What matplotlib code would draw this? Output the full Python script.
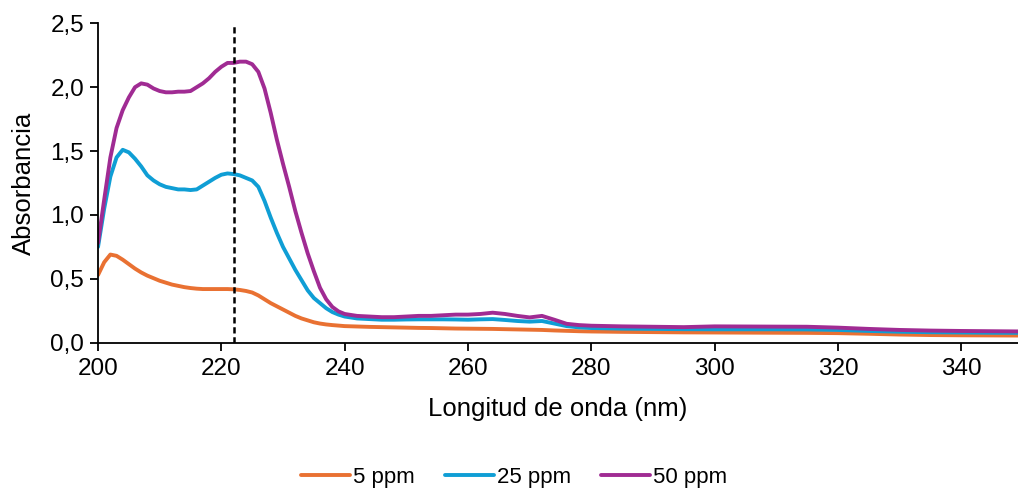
import matplotlib
matplotlib.use("Agg")
import matplotlib.pyplot as plt
from matplotlib.ticker import FuncFormatter, MultipleLocator

plt.rcParams['font.family'] = ['Liberation Sans', 'DejaVu Sans']

wavelength = [200, 201, 202, 203, 204, 205, 206, 207, 208, 209, 210, 211, 212, 213, 214,
              215, 216, 217, 218, 219, 220, 221, 222, 223, 224, 225, 226, 227, 228, 229,
              230, 231, 232, 233, 234, 235, 236, 237, 238, 239, 240, 242, 244, 246, 248,
              250, 252, 254, 256, 258, 260, 262, 264, 266, 268, 270, 272, 274, 276, 278,
              280, 285, 290, 295, 300, 305, 310, 315, 320, 325, 330, 335, 340, 345, 350]

ppm5 = [0.53, 0.63, 0.69, 0.68, 0.65, 0.615, 0.58, 0.55, 0.525, 0.505, 0.485, 0.47, 0.455, 0.445, 0.435,
        0.428, 0.423, 0.42, 0.42, 0.42, 0.42, 0.42, 0.418, 0.413, 0.405, 0.393, 0.37, 0.34, 0.31, 0.285,
        0.26, 0.235, 0.21, 0.19, 0.175, 0.16, 0.15, 0.143, 0.138, 0.134, 0.13, 0.127, 0.124, 0.122, 0.12,
        0.118, 0.116, 0.115, 0.113, 0.111, 0.11, 0.109, 0.108, 0.106, 0.104, 0.102, 0.1, 0.096, 0.093, 0.09,
        0.088, 0.085, 0.083, 0.081, 0.08, 0.079, 0.078, 0.077, 0.075, 0.07, 0.064, 0.06, 0.058, 0.057, 0.056]

ppm25 = [0.75, 1.05, 1.30, 1.45, 1.51, 1.49, 1.44, 1.38, 1.31, 1.27, 1.24, 1.22, 1.21, 1.20, 1.20,
         1.195, 1.20, 1.23, 1.26, 1.29, 1.315, 1.325, 1.32, 1.31, 1.29, 1.27, 1.22, 1.11, 0.98, 0.86,
         0.75, 0.66, 0.57, 0.49, 0.41, 0.35, 0.31, 0.27, 0.24, 0.22, 0.205, 0.19, 0.185, 0.18, 0.18,
         0.182, 0.183, 0.183, 0.183, 0.182, 0.18, 0.183, 0.185, 0.178, 0.17, 0.165, 0.17, 0.15, 0.13, 0.12,
         0.115, 0.11, 0.108, 0.106, 0.105, 0.105, 0.105, 0.104, 0.1, 0.092, 0.086, 0.082, 0.08, 0.078, 0.077]

ppm50 = [0.78, 1.12, 1.45, 1.68, 1.82, 1.92, 2.00, 2.03, 2.02, 1.99, 1.97, 1.96, 1.96, 1.965, 1.965,
         1.97, 2.00, 2.03, 2.07, 2.12, 2.16, 2.19, 2.19, 2.20, 2.20, 2.18, 2.12, 1.99, 1.80, 1.59,
         1.40, 1.22, 1.03, 0.86, 0.70, 0.56, 0.43, 0.34, 0.28, 0.245, 0.225, 0.21, 0.205, 0.20, 0.20,
         0.205, 0.21, 0.21, 0.215, 0.22, 0.22, 0.225, 0.235, 0.225, 0.21, 0.198, 0.21, 0.18, 0.148, 0.138,
         0.133, 0.128, 0.125, 0.122, 0.128, 0.127, 0.126, 0.125, 0.118, 0.108, 0.10, 0.095, 0.092, 0.09, 0.088]

series_labels = ['5 ppm', '25 ppm', '50 ppm']
series_colors = ['#E97132', '#0F9ED5', '#A02B93']
marker_wavelength = 222

fig = plt.figure(figsize=(10.18, 4.91), dpi=100)
ax = fig.add_axes([0.0963, 0.302, 0.9037, 0.6505])

for vals, lab, col in zip([ppm5, ppm25, ppm50], series_labels, series_colors):
    ax.plot(wavelength, vals, color=col, lw=2.8, label=lab,
            solid_capstyle='round', solid_joinstyle='round')

ax.axvline(marker_wavelength, color='black', ls=(0, (2.5, 1.5)), lw=1.8)

ax.set_xlim(200, 349.2)
ax.set_ylim(0, 2.5)
ax.xaxis.set_major_locator(MultipleLocator(20))
ax.yaxis.set_major_locator(MultipleLocator(0.5))
ax.yaxis.set_major_formatter(FuncFormatter(lambda v, p: f"{v:.1f}".replace('.', ',')))

for s in ['top', 'right']:
    ax.spines[s].set_visible(False)
for s in ['left', 'bottom']:
    ax.spines[s].set_linewidth(1.3)
    ax.spines[s].set_color('black')

ax.tick_params(axis='both', direction='out', length=6, width=1.3, labelsize=17.5, colors='black')
ax.tick_params(axis='x', pad=5)
ax.tick_params(axis='y', pad=4)
ax.set_xlabel('Longitud de onda (nm)', fontsize=18.5, labelpad=12)
ax.set_ylabel('Absorbancia', fontsize=18.5, labelpad=10)

fig.legend(loc='center', bbox_to_anchor=(0.505, 0.028), ncol=3, frameon=False,
           fontsize=16, handlelength=2.2, handletextpad=0.15, columnspacing=1.35)

fig.savefig('out.png', dpi=100)
